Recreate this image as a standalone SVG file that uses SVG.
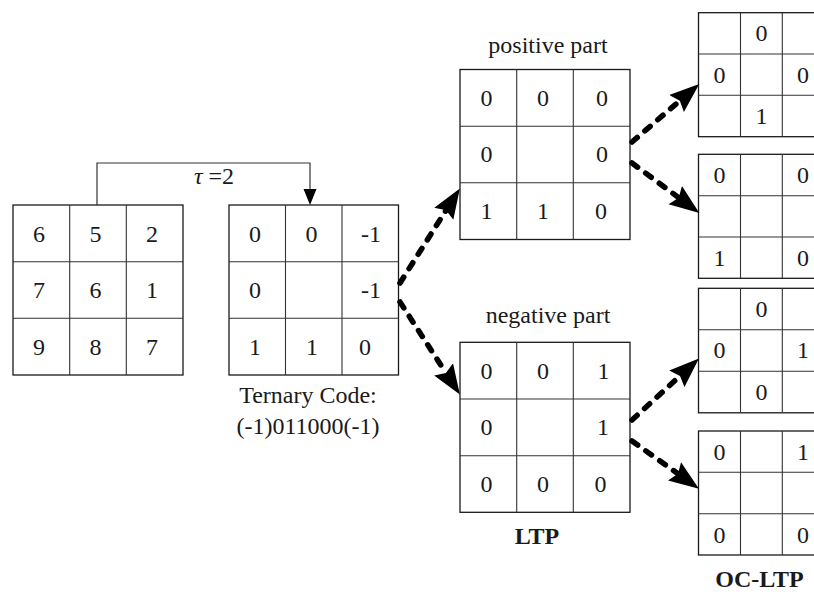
<svg xmlns="http://www.w3.org/2000/svg" width="814" height="592" viewBox="0 0 814 592">
<defs>
<style>
.g{fill:#fff;stroke:#1a1a1a;stroke-width:1.3}
.i{stroke:#333;stroke-width:1.1;fill:none}
.t{font-family:"Liberation Serif","Times New Roman",serif;font-size:24px;fill:#1a1a1a;text-anchor:middle}
.b{font-family:"Liberation Serif","Times New Roman",serif;font-size:24px;font-weight:bold;fill:#1a1a1a;text-anchor:middle}
.d{fill:none;stroke:#000;stroke-width:5.5;stroke-dasharray:7 10;stroke-linecap:round;marker-end:url(#ah)}
</style>
<marker id="ah" markerUnits="userSpaceOnUse" markerWidth="30" markerHeight="24" viewBox="0 0 28 22" refX="4" refY="11" orient="auto">
<path d="M0,0.5 L28,11 L0,21.5 L4,11 Z" fill="#000"/>
</marker>
</defs>
<rect width="814" height="592" fill="#fff"/>

<g id="input-grid">
<rect class="g" x="13" y="205" width="170" height="170"/>
<path class="i" d="M69.7,205V375M126.3,205V375M13,261.7H183M13,318.3H183"/>
<text class="t" x="39" y="241.5">6</text><text class="t" x="95.5" y="241.5">5</text><text class="t" x="152" y="241.5">2</text>
<text class="t" x="39" y="298">7</text><text class="t" x="95.5" y="298">6</text><text class="t" x="152" y="298">1</text>
<text class="t" x="39" y="354.5">9</text><text class="t" x="95.5" y="354.5">8</text><text class="t" x="152" y="354.5">7</text>
</g>

<g id="ternary-code">
<rect class="g" x="229" y="205" width="169.5" height="170"/>
<path class="i" d="M285.5,205V375M342,205V375M229,261.7H398.5M229,318.3H398.5"/>
<text class="t" x="255" y="241.5">0</text><text class="t" x="311.5" y="241.5">0</text><text class="t" x="371" y="241.5">-1</text>
<text class="t" x="255" y="298">0</text><text class="t" x="371" y="298">-1</text>
<text class="t" x="255" y="354.5">1</text><text class="t" x="312" y="354.5">1</text><text class="t" x="365" y="354.5">0</text>
<text class="t" x="308" y="403">Ternary Code:</text>
<text class="t" x="308" y="433.5">(-1)011000(-1)</text>
</g>

<g id="positive-part">
<text class="t" x="548" y="53">positive part</text>
<rect class="g" x="460" y="69.5" width="170" height="170"/>
<path class="i" d="M516.7,69.5V239.5M573.3,69.5V239.5M460,126.2H630M460,182.8H630"/>
<text class="t" x="486.5" y="105.5">0</text><text class="t" x="543" y="105.5">0</text><text class="t" x="602" y="105.5">0</text>
<text class="t" x="486.5" y="162">0</text><text class="t" x="602" y="162">0</text>
<text class="t" x="486.5" y="219">1</text><text class="t" x="543" y="219">1</text><text class="t" x="601" y="219">0</text>
</g>

<g id="negative-part">
<text class="t" x="548" y="323">negative part</text>
<rect class="g" x="460" y="342.3" width="170" height="170"/>
<path class="i" d="M516.7,342.3V512.3M573.3,342.3V512.3M460,399H630M460,455.7H630"/>
<text class="t" x="486.5" y="378.5">0</text><text class="t" x="543" y="378.5">0</text><text class="t" x="603.5" y="378.5">1</text>
<text class="t" x="486.5" y="435">0</text><text class="t" x="603" y="435">1</text>
<text class="t" x="486.5" y="492">0</text><text class="t" x="543" y="492">0</text><text class="t" x="600.5" y="492">0</text>
<text class="b" x="537" y="543.5">LTP</text>
</g>

<g id="oc-pos-1">
<rect class="g" x="698.5" y="12.7" width="125" height="124"/>
<path class="i" d="M740.5,12.7V136.7M782.3,12.7V136.7M698.5,54H823.5M698.5,95.3H823.5"/>
<text class="t" x="761.5" y="41">0</text>
<text class="t" x="719.5" y="82.5">0</text><text class="t" x="803" y="82.5">0</text>
<text class="t" x="761.5" y="124">1</text>
</g>

<g id="oc-pos-2">
<rect class="g" x="698.5" y="154.3" width="125" height="124"/>
<path class="i" d="M740.5,154.3V278.3M782.3,154.3V278.3M698.5,195.7H823.5M698.5,237H823.5"/>
<text class="t" x="719.5" y="182.5">0</text><text class="t" x="803" y="182.5">0</text>
<text class="t" x="719.5" y="265.5">1</text><text class="t" x="803" y="265.5">0</text>
</g>

<g id="oc-neg-1">
<rect class="g" x="698.5" y="288.3" width="125" height="124.5"/>
<path class="i" d="M740.5,288.3V412.8M782.3,288.3V412.8M698.5,329.7H823.5M698.5,371.2H823.5"/>
<text class="t" x="761.5" y="316.5">0</text>
<text class="t" x="719.5" y="358">0</text><text class="t" x="803" y="358">1</text>
<text class="t" x="761.5" y="399.5">0</text>
</g>

<g id="oc-neg-2">
<rect class="g" x="698.5" y="431" width="125" height="124"/>
<path class="i" d="M740.5,431V555M782.3,431V555M698.5,472.3H823.5M698.5,513.7H823.5"/>
<text class="t" x="719.5" y="459.5">0</text><text class="t" x="803" y="459.5">1</text>
<text class="t" x="719.5" y="542.5">0</text><text class="t" x="803" y="542.5">0</text>
<text class="b" x="759.5" y="587">OC-LTP</text>
</g>

<g id="connectors">
<path d="M97,205V163H310V190" fill="none" stroke="#333" stroke-width="1.2"/>
<polygon points="303.5,189 316.5,189 310,205" fill="#000"/>
<text class="t" x="214" y="184"><tspan font-style="italic">τ</tspan> =2</text>
<path class="d" d="M400,283L446.1,210.2"/>
<path class="d" d="M400,302L445.9,372.9"/>
<path class="d" d="M632,142L679.8,100.7"/>
<path class="d" d="M632,163L678.7,197.7"/>
<path class="d" d="M632,420L680,375.9"/>
<path class="d" d="M632,441L678,473.8"/>
</g>
</svg>
